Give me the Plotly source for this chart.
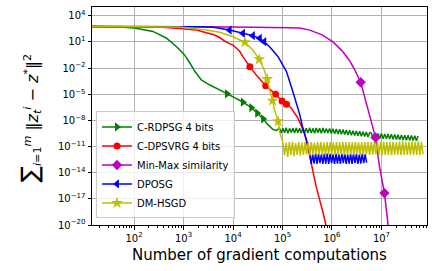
import numpy as np
import plotly.graph_objects as go

# ---- data (log10 exponents) ----
# C-RDPSG 4 bits (green)
green_x = [1.15, 1.71, 2.01, 2.38, 2.65, 2.86, 3.02, 3.13, 3.23, 3.36, 3.53, 3.73, 3.88, 4.05,
           4.20, 4.37, 4.49, 4.61, 4.71, 4.81, 4.88]
green_y = [2.75, 2.70, 2.58, 2.20, 1.45, 0.45, -0.50, -1.45, -2.40, -3.37, -3.95, -4.50, -4.95, -5.45,
           -5.92, -6.54, -7.18, -7.83, -8.52, -9.05, -9.15]
green_marks = [3.88, 4.20, 4.37, 4.49, 4.61]
green_band_x = [4.94, 7.74]
green_band = [-8.88, -9.45, -8.90, -9.42, -8.86, -9.47, -8.92, -9.40, -8.88, -9.46,
              -8.87, -9.43, -8.91, -9.47, -8.88, -9.41, -8.90, -9.46, -8.86, -9.44,
              -8.92, -9.47, -8.88, -9.42, -8.90, -9.48, -8.87, -9.45, -8.92, -9.46,
              -8.92, -9.50, -8.96, -9.53, -9.00, -9.57, -9.03, -9.60, -9.06, -9.63,
              -9.10, -9.67, -9.14, -9.71, -9.18, -9.74, -9.22, -9.78, -9.26, -9.82,
              -9.30, -9.86, -9.34, -9.90, -9.40,
              -9.46, -10.04, -9.48, -10.06, -9.50, -10.08, -9.52, -10.10, -9.55, -10.12,
              -9.57, -10.14, -9.60, -10.17, -9.62, -10.20, -9.65, -10.22, -9.68, -10.25,
              -9.70, -10.28, -9.72, -10.30, -9.74, -10.32, -9.76, -10.34, -9.78]

# C-DPSVRG 4 bits (red)
red_x = [1.15, 2.50, 2.72, 2.99, 3.26, 3.46, 3.60, 3.73, 3.83, 3.93, 4.00, 4.07, 4.13, 4.20,
         4.34, 4.47, 4.66, 4.76, 4.86, 4.99, 5.08, 5.18, 5.31, 5.45, 5.55, 5.68, 5.82, 5.87, 5.90]
red_y = [2.75, 2.72, 2.63, 2.50, 2.36, 2.05, 1.85, 1.50, 1.10, 0.80, 0.62, 0.27, -0.05, -0.70,
         -1.84, -2.79, -4.02, -4.50, -5.00, -5.77, -6.15, -6.61, -7.75, -9.50, -12.10, -15.60,
         -18.60, -19.80, -20.60]
red_marks = [4.34, 4.66, 4.86, 4.99, 5.08]

# Min-Max similarity (magenta)
mag_x = [1.15, 3.00, 4.00, 5.15, 5.35, 5.55, 5.80, 6.02, 6.20, 6.35, 6.46, 6.58, 6.73, 6.88,
         6.96, 7.06, 7.13, 7.16]
mag_y = [2.75, 2.74, 2.70, 2.62, 2.58, 2.35, 1.80, 1.00, 0.00, -1.10, -2.20, -3.63, -6.80,
         -9.97, -13.30, -16.34, -19.78, -21.00]
mag_marks = [6.58, 6.88, 7.06]

# DPOSG (blue)
blue_x = [1.15, 3.30, 3.60, 3.73, 3.93, 4.20, 4.40, 4.54, 4.63, 4.74, 4.91, 5.08, 5.21, 5.35,
          5.41, 5.48, 5.52]
blue_y = [2.75, 2.74, 2.68, 2.56, 2.36, 1.98, 1.71, 1.41, 1.02, 0.45, -0.70, -2.41, -4.71,
          -7.37, -8.90, -10.20, -11.00]
blue_marks = [3.93, 4.20, 4.40, 4.54, 4.63]
blue_band_x = [5.55, 6.70]
blue_band = [-11.85, -13.00, -11.90, -12.95, -11.80, -13.00, -11.85, -12.90, -11.90, -13.00,
             -11.85, -12.95, -11.80, -13.00, -11.85, -12.90, -11.90, -13.00, -11.85, -12.95,
             -11.90, -13.00, -11.80, -12.90, -11.85, -13.00, -11.90, -12.95, -11.85, -13.00,
             -11.80, -12.90, -11.85, -13.00, -11.90, -12.95, -11.85, -12.90, -11.90, -12.85]

# DM-HSGD (yellow)
yel_x = [1.15, 2.90, 3.06, 3.46, 3.73, 4.00, 4.24, 4.40, 4.53, 4.63, 4.69, 4.74, 4.80, 4.84,
         4.91, 4.94, 4.98]
yel_y = [2.75, 2.72, 2.63, 2.36, 2.10, 1.59, 0.95, 0.07, -1.00, -2.22, -3.25, -4.51, -5.74,
         -6.80, -8.10, -9.29, -10.00]
yel_marks = [4.24, 4.53, 4.69, 4.80, 4.91]
yel_band_x = [5.01, 7.84]
yel_band = [-10.60, -12.00, -10.55, -12.20, -10.50, -11.95, -10.45, -12.10, -10.60, -11.95,
            -10.50, -12.05, -10.55, -11.95, -10.50, -11.90, -10.55, -12.00, -10.50, -11.95,
            -10.55, -11.90, -10.50, -11.95, -10.50, -11.90, -10.55, -11.95, -10.50, -11.90,
            -10.50, -11.90, -10.52, -11.92, -10.50, -11.95, -10.52, -11.90, -10.48, -11.92,
            -10.50, -11.95, -10.50, -11.90, -10.48, -11.95, -10.50, -11.90, -10.52, -11.95,
            -10.48, -11.92, -10.50, -11.90, -10.48, -11.95, -10.50, -11.92, -10.48, -11.90,
            -10.45, -11.95, -10.48, -11.98, -10.45, -11.95, -10.48, -11.95, -10.45, -11.98,
            -10.45, -11.95, -10.48, -11.95, -10.45, -11.98, -10.42, -11.95, -10.45, -11.95,
            -10.45, -11.98, -10.42, -11.95, -10.45, -11.95, -10.42, -11.98, -10.45, -11.90]

names = ["C-RDPSG 4 bits", "C-DPSVRG 4 bits", "Min-Max similarity", "DPOSG", "DM-HSGD"]
x_ticks = [2, 3, 4, 5, 6, 7]
y_ticks = [4, 1, -2, -5, -8, -11, -14, -17, -20]

font = "DejaVu Sans"
fig = go.Figure()


def add_series(name, color, symbol, size, mx, my, marks, band_x=None, band=None):
    xe = list(mx)
    ye = list(my)
    if band is not None:
        xe += list(np.linspace(band_x[0], band_x[1], len(band)))
        ye += list(band)
    sel = [i for i, v in enumerate(mx) if v in marks]
    fig.add_trace(go.Scatter(
        x=10.0 ** np.array(xe), y=10.0 ** np.array(ye), name=name,
        mode="lines+markers",
        line=dict(color=color, width=1.5, simplify=False),
        marker=dict(symbol=symbol, size=size, color=color, line=dict(width=0)),
        selectedpoints=sel,
        selected=dict(marker=dict(opacity=1)),
        unselected=dict(marker=dict(opacity=0)),
    ))


add_series(names[0], "#008000", "triangle-right", 8, green_x, green_y, green_marks, green_band_x, green_band)
add_series(names[1], "#ff0000", "circle", 7, red_x, red_y, red_marks)
add_series(names[2], "#bf00bf", "diamond", 8, mag_x, mag_y, mag_marks)
add_series(names[3], "#0000ff", "triangle-left", 8, blue_x, blue_y, blue_marks, blue_band_x, blue_band)
add_series(names[4], "#bfbf00", "star", 9, yel_x, yel_y, yel_marks, yel_band_x, yel_band)

minor_vals = [m * 10.0 ** k for k in range(1, 8) for m in range(2, 10)]

axis_common = dict(
    type="log", showline=True, linecolor="black", linewidth=1, mirror=True,
    ticks="outside", ticklen=3.5, tickwidth=0.8, tickcolor="black",
    showgrid=True, gridcolor="#b0b0b0", gridwidth=0.8, zeroline=False,
    tickfont=dict(family=font, size=10, color="black"),
)

fig.update_layout(
    width=432, height=271,
    margin=dict(l=92, r=5, t=7, b=46),
    paper_bgcolor="white", plot_bgcolor="white",
    font=dict(family=font, size=10, color="black"),
    xaxis=dict(**axis_common, range=[1.15, 7.92],
               tickmode="array", tickvals=[10.0 ** k for k in x_ticks],
               ticktext=["10<sup>%d</sup>" % k for k in x_ticks],
               minor=dict(tickmode="array", tickvals=minor_vals, ticks="outside",
                          ticklen=2, tickwidth=0.6, tickcolor="black", showgrid=False)),
    yaxis=dict(**axis_common, range=[-20, 5],
               tickmode="array", tickvals=[10.0 ** k for k in y_ticks],
               ticktext=["10<sup>%s</sup>" % (str(k).replace("-", "\u2212")) for k in y_ticks]),
    legend=dict(x=0.012, y=0.03, xanchor="left", yanchor="bottom",
                bgcolor="rgba(255,255,255,0.8)", bordercolor="#cccccc", borderwidth=1,
                font=dict(family=font, size=10, color="black"), tracegroupgap=0),
    showlegend=True,
    annotations=[
        dict(text="Number of gradient computations", xref="paper", yref="paper",
             x=0.5, y=-0.1376, xanchor="center", yanchor="middle", showarrow=False,
             font=dict(family=font, size=15, color="black")),
        dict(text="<span style='font-size:24px'>\u2211</span><sub><i>i</i>=1</sub><sup><i>m</i></sup> "
                  "\u2016<i>z</i><sub><i>t</i></sub><sup><i>i</i></sup> \u2212 <i>z</i><sup>*</sup>\u2016<sup>2</sup>",
             xref="paper", yref="paper", x=-0.185, y=0.49, xanchor="center", yanchor="middle",
             textangle=-90, showarrow=False, font=dict(family=font, size=16, color="black")),
    ],
)

fig.write_html("out.html", config={"displayModeBar": False},
               post_script="document.body.style.margin='0';")
